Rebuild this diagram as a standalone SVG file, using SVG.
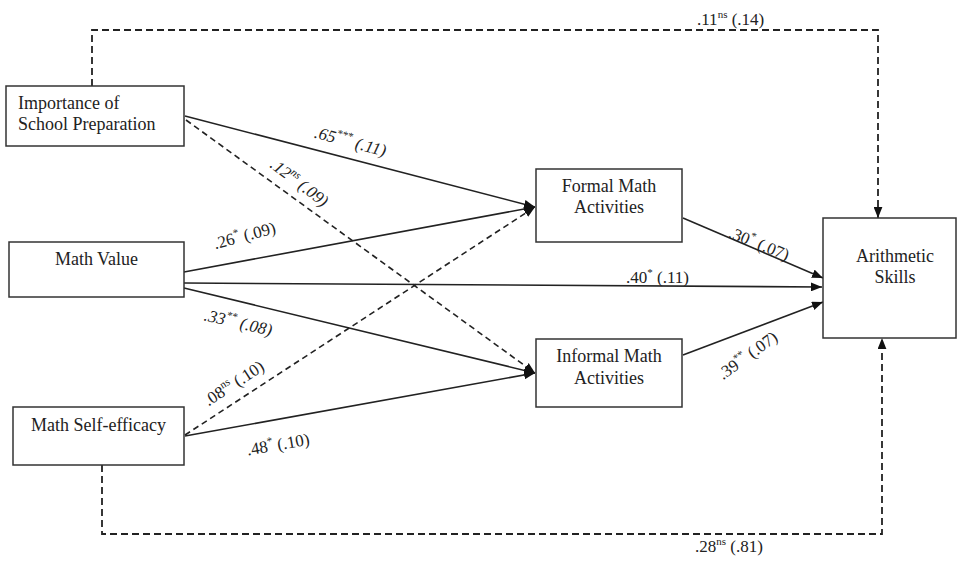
<svg xmlns="http://www.w3.org/2000/svg" width="960" height="564" viewBox="0 0 960 564">
<defs>
<style>
.box{fill:#fff;stroke:#333;stroke-width:1.5}
.nt{font-family:"Liberation Serif","Times New Roman",serif;font-size:18px;fill:#222}
.lb{font-family:"Liberation Serif","Times New Roman",serif;font-size:17px;fill:#222}
.it{font-style:italic}
.sup{font-size:11px}
.ln{fill:none;stroke:#222;stroke-width:1.6}
.ds{fill:none;stroke:#222;stroke-width:1.6;stroke-dasharray:6 4}
.dt{fill:none;stroke:#222;stroke-width:1.8;stroke-dasharray:7 4}
</style>
<marker id="ah" viewBox="0 0 10 8" refX="10" refY="4" markerWidth="11" markerHeight="9" markerUnits="userSpaceOnUse" orient="auto">
<path d="M0,0 L10,4 L0,8 z" fill="#111"/>
</marker>
</defs>
<rect width="960" height="564" fill="#fff"/>

<g id="connectors">
<line class="ln" x1="185" y1="116" x2="535" y2="207" marker-end="url(#ah)"/>
<line class="ds" x1="186" y1="120" x2="535" y2="373" marker-end="url(#ah)"/>
<line class="ln" x1="184" y1="272" x2="535" y2="207" marker-end="url(#ah)"/>
<line class="ln" x1="184" y1="283" x2="822" y2="287" marker-end="url(#ah)"/>
<line class="ln" x1="184" y1="288" x2="535" y2="373" marker-end="url(#ah)"/>
<line class="ds" x1="185" y1="435" x2="535" y2="207" marker-end="url(#ah)"/>
<line class="ln" x1="185" y1="436" x2="535" y2="373" marker-end="url(#ah)"/>
<line class="ln" x1="683" y1="218" x2="823" y2="278" marker-end="url(#ah)"/>
<line class="ln" x1="683" y1="355" x2="823" y2="302" marker-end="url(#ah)"/>
<polyline class="dt" points="92,86 92,30 878,30 878,218" marker-end="url(#ah)"/>
<polyline class="dt" points="102,465 102,534 882,534 882,338" marker-end="url(#ah)"/>
</g>

<g id="labels">
<text class="lb it" transform="translate(349,147) rotate(15)" text-anchor="middle">.65<tspan class="sup" dy="-7">***</tspan><tspan dy="7"> (.11)</tspan></text>
<text class="lb it" transform="translate(296,187) rotate(37)" text-anchor="middle">.12<tspan class="sup" dy="-7">ns</tspan><tspan dy="7"> (.09)</tspan></text>
<text class="lb" transform="translate(246,241) rotate(-15)" text-anchor="middle">.26<tspan class="sup" dy="-7">*</tspan><tspan dy="7"> (.09)</tspan></text>
<text class="lb it" transform="translate(237,328) rotate(13)" text-anchor="middle">.33<tspan class="sup" dy="-7">**</tspan><tspan dy="7"> (.08)</tspan></text>
<text class="lb" transform="translate(237,388) rotate(-33)" text-anchor="middle">.08<tspan class="sup" dy="-7">ns</tspan><tspan dy="7"> (.10)</tspan></text>
<text class="lb" transform="translate(279,450) rotate(-10)" text-anchor="middle">.48<tspan class="sup" dy="-7">*</tspan><tspan dy="7"> (.10)</tspan></text>
<text class="lb" x="626" y="283">.40<tspan class="sup" dy="-7">*</tspan><tspan dy="7"> (.11)</tspan></text>
<text class="lb" transform="translate(757,249) rotate(22)" text-anchor="middle">.30<tspan class="sup" dy="-7">*</tspan><tspan dy="7"> (.07)</tspan></text>
<text class="lb" transform="translate(751,360) rotate(-36)" text-anchor="middle">.39<tspan class="sup" dy="-7">**</tspan><tspan dy="7"> (.07)</tspan></text>
<text class="lb" x="697" y="25">.11<tspan class="sup" dy="-7">ns</tspan><tspan dy="7"> (.14)</tspan></text>
<text class="lb" x="695" y="552">.28<tspan class="sup" dy="-7">ns</tspan><tspan dy="7"> (.81)</tspan></text>
</g>

<g id="importance">
<rect class="box" x="6" y="86" width="178" height="60"/>
<text class="nt" x="18" y="109">Importance of</text>
<text class="nt" x="18" y="130">School Preparation</text>
</g>
<g id="mathvalue">
<rect class="box" x="9" y="242" width="175" height="55"/>
<text class="nt" x="96.5" y="265" text-anchor="middle">Math Value</text>
</g>
<g id="selfefficacy">
<rect class="box" x="13" y="407" width="171" height="58"/>
<text class="nt" x="98.5" y="431" text-anchor="middle">Math Self-efficacy</text>
</g>
<g id="formal">
<rect class="box" x="536" y="169" width="146" height="73"/>
<text class="nt" x="609" y="192" text-anchor="middle">Formal Math</text>
<text class="nt" x="609" y="213" text-anchor="middle">Activities</text>
</g>
<g id="informal">
<rect class="box" x="536" y="339" width="146" height="68"/>
<text class="nt" x="609" y="362" text-anchor="middle">Informal Math</text>
<text class="nt" x="609" y="384" text-anchor="middle">Activities</text>
</g>
<g id="arithmetic">
<rect class="box" x="823" y="218" width="133" height="120"/>
<text class="nt" x="895" y="262" text-anchor="middle">Arithmetic</text>
<text class="nt" x="895" y="283" text-anchor="middle">Skills</text>
</g>
</svg>
